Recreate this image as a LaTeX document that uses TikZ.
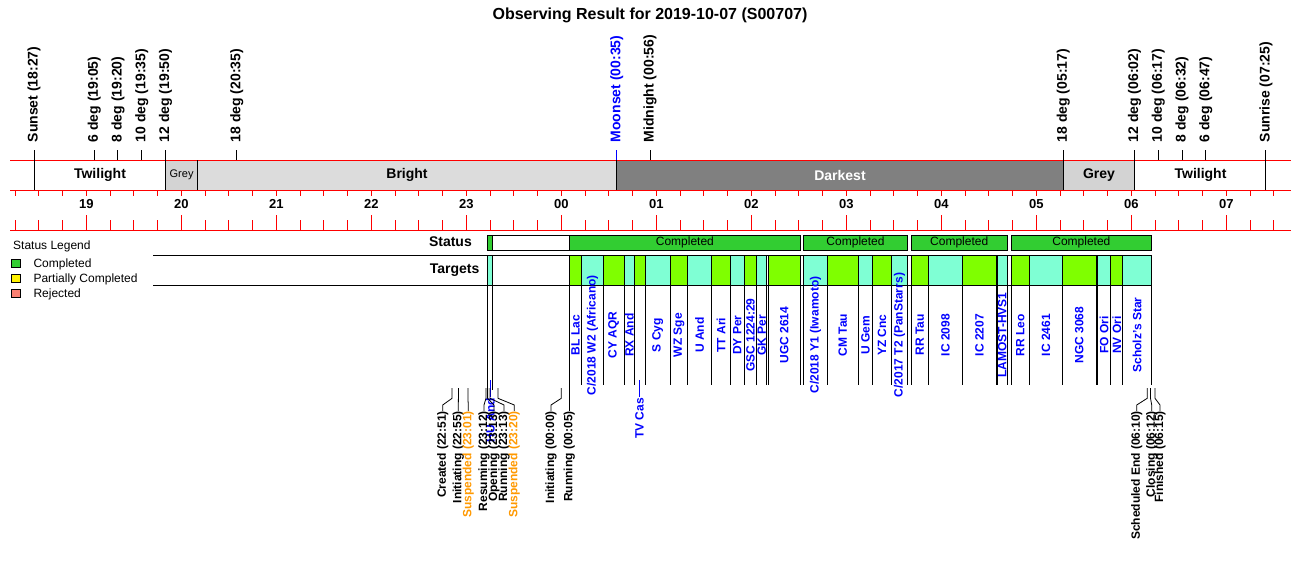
\documentclass[tikz,border=0pt]{standalone}
\usepackage{fontspec}
\setmainfont{Liberation Sans}
\newcommand{\fsz}[1]{\fontsize{#1}{#1}\selectfont}
\definecolor{tgreen}{RGB}{127,255,0}
\definecolor{taqua}{RGB}{127,255,212}
\definecolor{sgreen}{RGB}{50,205,50}
\definecolor{brightc}{RGB}{220,220,220}
\definecolor{greyc}{RGB}{211,211,211}
\definecolor{darkc}{RGB}{128,128,128}
\definecolor{evorange}{RGB}{255,153,0}
\definecolor{salmonc}{RGB}{250,128,114}
\begin{document}
\begin{tikzpicture}[x=1pt,y=-1pt,
  evlab/.style={rotate=90, anchor=west, inner sep=0pt, font={\fsz{14}\bfseries}},
  tglab/.style={rotate=90, inner sep=0pt, font={\fsz{12}\bfseries}, text=blue},
  stlab/.style={rotate=90, anchor=east, inner sep=0pt, font={\fsz{12}\bfseries}},
  hourlab/.style={inner sep=0pt, font={\fsz{13}\bfseries}},
  bandlab/.style={inner sep=0pt, font={\fsz{14}\bfseries}},
  smalltxt/.style={inner sep=0pt, font={\fsz{12}}},
  redline/.style={red, line width=1pt},
  blk/.style={black, line width=1pt}]
\useasboundingbox (0,0) rectangle (1300,560);
\fill[white] (0,0) rectangle (1300,560);

% title
\node[inner sep=0pt, font={\fsz{16}\bfseries}] (title) at (650,15) {Observing Result for 2019-10-07 (S00707)};

% band fills
\fill[greyc] (165.5,160) rectangle (197.7,190);
\fill[brightc] (197.7,160) rectangle (616.7,190);
\fill[darkc] (616.7,160) rectangle (1063.2,190);
\fill[greyc] (1063.2,160) rectangle (1134.5,190);

% band labels
\node[bandlab] (tw1) at (100,175) {Twilight};
\node[inner sep=0pt, font={\fsz{11}}] (gr1) at (181.6,175) {Grey};
\node[bandlab] (br) at (407,175) {Bright};
\node[bandlab, text=white] (dk) at (840,175) {Darkest};
\node[bandlab] (gr2) at (1099,175) {Grey};
\node[bandlab] (tw2) at (1200.5,175) {Twilight};

% red axis lines
\draw[redline] (10,160) -- (1291,160);
\draw[redline] (10,190) -- (1291,190);
\draw[redline] (10,230) -- (1291,230);

% ticks every 15 minutes
\foreach \k in {0,...,53} {
  \pgfmathsetmacro\xx{15.05+23.75*\k}
  \pgfmathtruncatemacro\m{mod(\k,4)}
  \draw[redline] (\xx,190) -- (\xx,195.5);
  \ifnum\m=3
    \draw[redline] (\xx,215) -- (\xx,230);
  \else
    \draw[redline] (\xx,220) -- (\xx,230);
  \fi
}

% hour labels
\foreach \h/\lab [count=\i] in {-5/19,-4/20,-3/21,-2/22,-1/23,0/00,1/01,2/02,3/03,4/04,5/05,6/06,7/07} {
  \node[hourlab] (h\i) at ({561.3+95*\h},204) {\lab};
}

% band separators without ticks
\draw[blk] (197.7,160) -- (197.7,190);
\draw[blk] (616.7,160) -- (616.7,190);

% top events
\foreach \x/\txt/\b/\c [count=\i] in {
  34.05/Sunset (18:27)/190/black,
  94.2/6 deg (19:05)/160/black,
  117.96/8 deg (19:20)/160/black,
  141.7/10 deg (19:35)/160/black,
  165.5/12 deg (19:50)/190/black,
  236.7/18 deg (20:35)/160/black,
  616.7/Moonset (00:35)/160/blue,
  650.0/Midnight (00:56)/160/black,
  1063.2/18 deg (05:17)/190/black,
  1134.5/12 deg (06:02)/190/black,
  1158.2/10 deg (06:17)/160/black,
  1182.0/8 deg (06:32)/160/black,
  1205.7/6 deg (06:47)/160/black,
  1265.9/Sunrise (07:25)/190/black} {
  \node[evlab, text=\c] (ev\i) at (\x,142.5) {\txt};
  \draw[\c, line width=1pt] (\x,150) -- (\x,\b);
}

% legend
\node[smalltxt, anchor=west] (legt) at (13,246) {Status Legend};
\draw[blk, fill=sgreen] (11.5,259.5) rectangle (20.5,267.5);
\draw[blk, fill=yellow] (11.5,274.5) rectangle (20.5,282.5);
\draw[blk, fill=salmonc] (11.5,289.5) rectangle (20.5,297.5);
\node[smalltxt, anchor=west] (leg1) at (33.3,264) {Completed};
\node[smalltxt, anchor=west] (leg2) at (33.3,279) {Partially Completed};
\node[smalltxt, anchor=west] (leg3) at (33.3,294) {Rejected};

% row labels and lines
\node[inner sep=0pt, anchor=east, font={\fsz{14}\bfseries}] (stat) at (472,242) {Status};
\node[inner sep=0pt, anchor=east, font={\fsz{14}\bfseries}] (targ) at (479.5,270) {Targets};
\draw[blk] (153,255) -- (1151.5,255);
\draw[blk] (153,285) -- (1151.5,285);

% status row
\draw[blk, fill=sgreen] (487.3,235.7) rectangle (492.3,250);
\draw[blk] (492.3,235.7) rectangle (569.5,250);
\foreach \a/\b [count=\i] in {569.5/800.3, 803.5/907.5, 911.2/1007.2, 1011.2/1151.5} {
  \draw[blk, fill=sgreen] (\a,235.7) rectangle (\b,250);
  \node[smalltxt] (st\i) at ({(\a+\b)/2},242.8) {Completed};
}

% targets
\draw[blk, fill=taqua] (487.3,255) rectangle (492.3,285);
\draw[blk] (487.3,285) -- (487.3,390);
\draw[blk] (492.3,285) -- (492.3,390);
\foreach \a/\b/\c/\t [count=\i] in {
  569.3/581.7/tgreen/BL Lac,
  581.7/603.3/taqua/{C/2018 W2 (Africano)},
  603.3/624/tgreen/CY AQR,
  624/634.7/taqua/RX And,
  634.7/645.3/tgreen/{},
  645.3/670.3/taqua/S Cyg,
  670.3/687.7/tgreen/WZ Sge,
  687.7/711.7/taqua/U And,
  711.7/730.3/tgreen/TT Ari,
  730.3/744.3/taqua/DY Per,
  744.3/756.7/tgreen/GSC 1224:29,
  756.7/766.7/taqua/GK Per,
  768.3/800.3/tgreen/UGC 2614,
  803.5/827.3/taqua/{C/2018 Y1 (Iwamoto)},
  827.3/858.3/tgreen/CM Tau,
  858.3/872.7/taqua/U Gem,
  872.7/891.3/tgreen/YZ Cnc,
  891.3/907.5/taqua/{C/2017 T2 (PanStarrs)},
  911.3/928.3/tgreen/RR Tau,
  928.3/962.7/taqua/IC 2098,
  962.7/996.3/tgreen/IC 2207,
  997.3/1007.2/taqua/LAMOST-HVS1,
  1011.3/1029.3/tgreen/RR Leo,
  1029.3/1062.7/taqua/IC 2461,
  1062.7/1096/tgreen/NGC 3068,
  1097.3/1110.7/taqua/FO Ori,
  1110.7/1122.7/tgreen/NV Ori,
  1122.7/1151.5/taqua/Scholz's Star} {
  \draw[blk, fill=\c] (\a,255) rectangle (\b,285);
  \draw[blk] (\a,285) -- (\a,385);
  \draw[blk] (\b,285) -- (\b,385);
  \node[tglab] (tg\i) at ({(\a+\b)/2},335) {\t};
}

% labels moved below with leaders
\coordinate (huA) at (490.3,380);
\coordinate (huB) at (490.3,396.7);
\draw[blue, line width=1pt] (huA) -- (huB);
\node[tglab, anchor=east] (hu) at (490.3,398) {HU And};
\coordinate (tvA) at (639.5,380);
\coordinate (tvB) at (639.5,396.7);
\draw[blue, line width=1pt] (tvA) -- (tvB);
\node[tglab, anchor=east] (tv) at (639.5,398) {TV Cas};

% status events at bottom
\foreach \xt/\xl/\txt/\c [count=\i] in {
  452.05/442.7/Created (22:51)/black,
  458.4/458.3/Initiating (22:55)/black,
  467.9/468.3/Suspended (23:01)/evorange,
  486.0/484.0/Resuming (23:12)/black,
  487.6/494.0/Opening (23:13)/black,
  490.0/504.0/Running (23:13)/black,
  498.0/514.3/Suspended (23:20)/evorange,
  561.3/551.0/Initiating (00:00)/black,
  569.2/569.2/Running (00:05)/black,
  1147.2/1136.7/Scheduled End (06:10)/black,
  1150.5/1151.7/Closing (06:12)/black,
  1155.0/1160.0/Finished (06:15)/black} {
  \node[stlab, text=\c] (se\i) at (\xl,411) {\txt};
  \draw[blk, line width=0.8pt] (\xt,388) -- (\xt,398.3) -- (\xl,405) -- (se\i.east);
}
\draw[blk] (569.2,385) -- (569.2,388);
\end{tikzpicture}
\end{document}
